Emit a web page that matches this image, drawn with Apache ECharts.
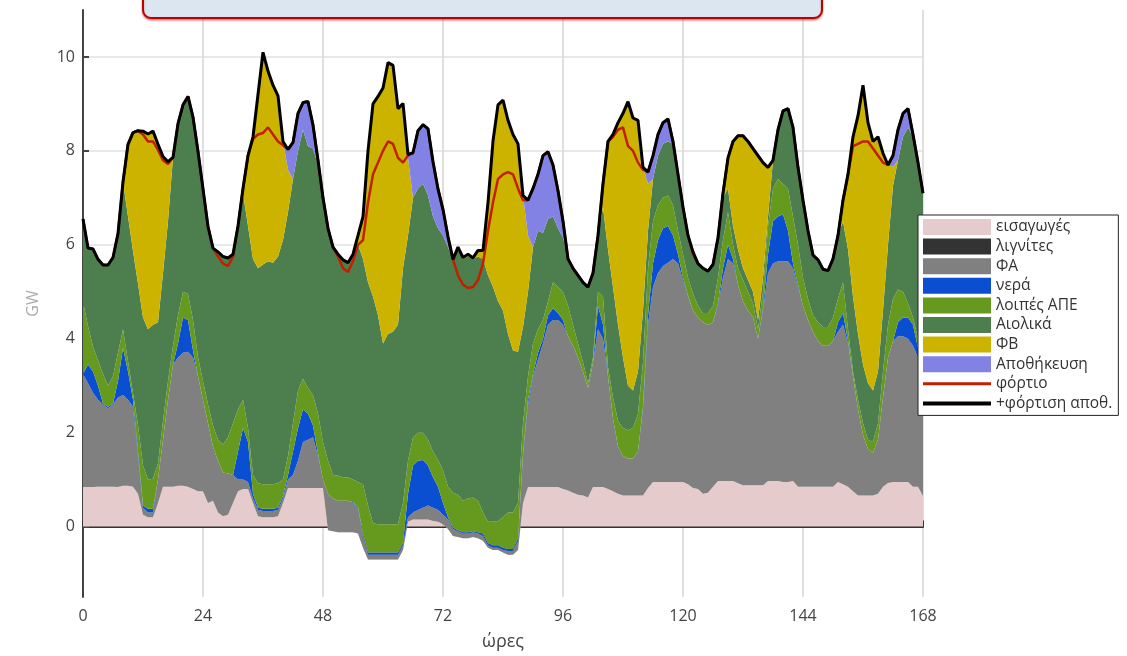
<!DOCTYPE html>
<html><head><meta charset="utf-8">
<script src="https://cdn.jsdelivr.net/npm/echarts@6/dist/echarts.min.js"></script>
<style>html,body{margin:0;padding:0;background:#fff}#c{width:1127px;height:656px}</style>
</head><body><div id="c"></div>
<script>
// hour categories 0..168
const hours = Array.from({length: 169}, (_, i) => String(i));
const xTickLabels = ['0','24','48','72','96','120','144','168'];
const yTickValues = [0, 2, 4, 6, 8, 10];

// stacked generation, GW
const imports = [
 .84,.84,.84,.85,.85,.85,.85,.84,.87,.87,
 .85,.70,.25,.20,.20,.50,.85,.85,.85,.87,
 .87,.85,.80,.75,.75,.50,.55,.30,.22,.25,
 .50,.75,.80,.80,.50,.22,.20,.20,.20,.22,
 .50,.82,.82,.82,.82,.82,.82,.82,.82,-.08,
 -.10,-.12,-.12,-.12,-.12,-.15,-.45,-.70,-.70,-.70,
 -.70,-.70,-.70,-.70,-.50,.10,.15,.15,.15,.15,
 .12,.10,.05,-.05,-.20,-.22,-.25,-.25,-.22,-.25,
 -.30,-.45,-.50,-.50,-.55,-.60,-.60,-.50,.50,.84,
 .84,.84,.84,.84,.84,.84,.80,.77,.72,.68,
 .66,.62,.84,.84,.84,.80,.75,.70,.66,.66,
 .66,.66,.66,.82,.95,.95,.95,.95,.95,.95,
 .95,.90,.82,.80,.70,.72,.85,.97,.97,.97,
 .97,.92,.88,.88,.88,.88,.88,.97,.97,.97,
 .95,.95,.97,.85,.85,.85,.85,.85,.85,.85,
 .85,.95,.90,.85,.75,.66,.66,.66,.66,.70,
 .85,.93,.95,.95,.95,.95,.85,.85,.65];
const lignite = [
 0,0,0,0,0,0,0,0,0,0, 0,0,0,0,0,0,0,0,0,0, 0,0,0,0,0,0,0,0,0,0,
 0,0,0,0,0,0,0,0,0,0, 0,0,0,0,0,0,0,0,0,0, 0,0,0,0,0,0,0,0,0,0,
 0,0,0,0,0,0,0,0,0,0, 0,0,0,0,0,0,0,0,0,0, 0,0,0,0,0,0,0,0,0,0,
 0,0,0,0,0,0,0,0,0,0, 0,0,0,0,0,0,0,0,0,0, 0,0,0,0,0,0,0,0,0,0,
 0,0,0,0,0,0,0,0,0,0, 0,0,0,0,0,0,0,0,0,0, 0,0,0,0,0,0,0,0,0];
const gas = [
 2.41,2.21,2.01,1.85,1.75,1.67,1.75,1.91,1.93,1.83,
 1.70,.80,.15,.10,.10,.50,1.00,1.85,2.60,2.73,
 2.83,2.87,2.80,2.45,1.95,1.70,1.15,1.10,.93,.88,
 .60,.25,.20,.15,.10,.13,.13,.13,.13,.13,
 .10,.18,.28,.58,.98,1.03,1.08,.68,.18,.78,
 .70,.67,.67,.67,.62,.55,.25,.10,.10,.10,
 .10,.10,.10,.10,.10,.10,.15,.20,.25,.30,
 .28,.25,.20,.20,.15,.12,.10,.10,.10,.10,
 .10,.05,.05,.05,.05,.08,.08,.20,1.00,1.76,
 2.36,2.71,3.06,3.46,3.56,3.56,3.50,3.28,3.13,2.92,
 2.64,2.33,2.66,3.36,3.16,2.40,1.55,1.00,.84,.79,
 .79,.94,1.84,3.48,4.15,4.45,4.60,4.67,4.75,4.65,
 4.30,4.00,3.78,3.65,3.65,3.58,3.50,3.73,4.33,4.73,
 4.63,4.23,3.92,3.72,3.57,3.12,3.72,4.43,4.63,4.68,
 4.70,4.70,4.53,4.25,3.85,3.55,3.30,3.10,3.00,3.00,
 3.10,3.20,3.40,3.05,2.45,1.84,1.29,.99,.91,1.15,
 1.90,2.67,3.00,3.10,3.10,3.05,3.00,2.75,2.75];
const hydro = [
 0,.40,.45,.30,.02,.03,.02,.35,1.00,.60,
 .15,.10,.05,.08,.08,0,0,0,0,.30,
 .75,.68,.15,0,0,0,0,0,0,0,
 0,.60,1.10,.85,.10,.05,.05,.05,.05,.05,
 .05,.10,.50,.70,.70,.55,.25,.05,0,0,
 0,0,0,0,.02,.02,.05,.05,.05,.05,
 .05,.05,.05,.05,.05,.50,1.00,1.05,1.02,.85,
 .65,.50,.25,.05,.03,.02,.03,.03,.02,.03,
 .05,.05,.05,.05,.05,.04,.04,.05,.05,.10,
 .05,.15,.10,.20,.25,.15,.10,0,0,0,
 0,0,0,.50,.30,0,0,0,0,0,
 0,0,.05,.20,.50,.70,.80,.78,.50,.20,
 .05,.02,0,0,0,0,0,.05,.20,.30,
 .10,0,0,0,0,0,.05,.40,.90,.95,
 1.00,.65,.10,.05,0,0,0,0,0,0,
 0,.20,.25,.05,0,0,0,0,0,0,
 0,0,0,.30,.40,.45,.45,.20,.10];
const otherRes = [
 1.53,.82,.53,.54,.63,.45,.58,.60,.40,.22,
 .14,.56,.85,.62,.64,.35,.40,.40,.40,.60,
 .55,.55,.65,.41,.40,.40,.45,.45,.60,.77,
 1.10,.90,.60,.30,.40,.52,.52,.52,.52,.52,
 .35,.40,.60,.80,.65,.55,.65,.85,.80,.70,
 .50,.53,.50,.50,.48,.53,1.05,1.00,.62,.60,
 .60,.60,.60,.60,.85,.70,.60,.60,.58,.55,
 .55,.57,.70,.65,.74,.76,.67,.72,.72,.67,
 .45,.45,.50,.52,.65,.78,.78,.75,.65,.50,
 .65,.50,.40,.30,.55,.55,.60,.65,.45,.30,
 .20,.10,.10,.30,.60,.20,.45,.55,.60,.60,
 .65,.80,.95,1.00,.90,.75,.65,.65,.65,.50,
 .50,.38,.35,.25,.20,.25,.35,.55,.60,.70,
 .30,.35,.45,.40,.30,.20,.35,.60,.70,.80,
 .65,.90,1.00,.85,.60,.45,.35,.40,.40,.40,
 .50,.50,.65,.25,.10,.20,.25,.20,.23,.35,
 .55,.70,.90,.70,.55,.30,.15,.20,.30];
const wind = [
 1.77,1.66,2.08,2.15,2.32,2.57,2.53,2.54,3.14,3.08,
 3.03,3.01,3.15,3.20,3.28,3.00,3.15,3.40,4.01,4.08,
 3.98,4.21,4.32,4.38,4.09,3.79,3.78,4.00,4.00,3.82,
 3.60,3.90,4.40,4.30,4.60,4.58,4.68,4.75,4.72,4.83,
 5.10,5.20,5.20,5.10,5.30,5.15,5.25,5.30,5.15,4.95,
 4.85,4.72,4.63,4.57,4.80,5.05,4.80,4.75,4.83,4.45,
 3.85,4.05,4.10,4.25,5.00,4.80,5.10,5.20,5.30,5.20,
 5.00,4.93,5.00,5.10,4.97,5.22,5.15,5.15,5.08,5.20,
 5.40,5.25,5.00,4.68,4.40,3.80,3.45,3.22,2.05,1.80,
 2.05,2.10,1.85,1.75,1.40,1.25,1.15,1.00,1.20,1.45,
 1.70,2.05,1.80,1.20,1.90,2.50,2.35,2.05,1.50,.95,
 .80,.90,1.10,.80,.90,1.05,1.15,1.15,1.30,1.20,
 1.00,.90,.90,.90,.95,.89,.88,.85,.90,.50,
 .40,.40,.25,.25,.25,.20,.30,.20,.60,1.05,
 1.55,1.70,1.90,1.65,1.65,1.45,1.28,1.33,1.23,1.20,
 1.25,1.35,1.30,1.70,1.60,1.40,1.25,1.20,1.10,1.10,
 1.30,1.70,2.41,2.75,3.30,3.75,3.85,3.75,3.30];
const pv = [
 0,0,0,0,0,0,0,0,0,1.54,
 2.52,3.26,3.97,4.16,4.12,3.79,2.48,1.27,0,0,
 0,0,0,0,0,0,0,0,0,0,
 0,0,.10,1.50,2.60,3.70,4.52,4.05,3.78,3.42,
 2.10,.90,0,0,0,0,0,0,0,0,
 0,0,0,0,0,.20,.90,2.80,4.10,4.66,
 5.44,5.78,5.67,4.60,3.51,1.65,0,0,0,0,
 0,0,0,0,0,.05,.03,.05,.02,.13,
 .18,1.55,3.11,4.18,4.48,4.55,4.60,4.43,2.80,1.20,
 0,0,0,0,0,0,0,0,0,0,
 0,0,0,0,.50,2.30,3.25,4.30,5.20,6.05,
 5.80,5.35,3.05,1.00,0,0,0,0,0,0,
 0,0,0,0,0,0,0,0,.10,.65,
 1.80,2.42,2.82,2.95,3.05,3.50,2.45,1.05,0,0,
 0,0,0,0,0,0,0,0,0,0,
 0,0,.45,1.60,3.40,4.65,5.95,5.55,5.30,5.00,
 3.35,1.70,.40,0,0,0,0,0,0];
const storage = [
 0,0,0,0,0,0,0,0,0,0, 0,0,0,0,0,0,0,0,0,0,
 0,0,0,0,0,0,0,0,0,0, 0,0,0,0,0,0,0,0,0,0,
 0,.43,.78,.80,.58,.95,.50,.10,.05,0,
 0,0,0,0,0,0,0,0,0,0,
 0,0,0,0,0,.07,.96,1.23,1.26,1.42,
 1.17,.84,.55,.22,0,0,0,0,0,0,
 0,0,0,0,0,0,0,0,0,.75,
 1.25,1.20,1.65,1.43,1.10,.80,.35,0,0,0,
 0,0,0,0,0,0,0,0,0,0,
 0,0,0,.25,.50,.45,.45,.48,.05,0,
 0,0,0,0,0,0,0,0,0,0, 0,0,0,0,0,0,0,0,0,0,
 0,0,0,0,0,0,0,0,0,0, 0,0,0,0,0,0,0,0,0,0,
 0,0,.24,.65,.50,.40,.05,0,0];
// lines
const load = [
 6.55,5.93,5.91,5.69,5.57,5.57,5.73,6.24,7.34,8.14,
 8.39,8.43,8.35,8.20,8.20,8.02,7.80,7.72,7.86,8.58,
 8.98,9.16,8.72,7.99,7.19,6.39,5.93,5.75,5.60,5.55,
 5.75,6.40,7.20,7.90,8.25,8.35,8.38,8.50,8.35,8.20,
 8.12,8.03,8.18,8.80,9.03,9.05,8.55,7.80,7.00,6.35,
 5.95,5.75,5.50,5.42,5.65,6.00,6.10,6.90,7.50,7.75,
 8.00,8.20,8.15,7.85,7.75,7.90,7.96,8.43,8.56,8.47,
 7.77,7.19,6.75,6.17,5.69,5.35,5.15,5.08,5.10,5.25,
 5.60,6.30,6.90,7.40,7.50,7.55,7.50,7.20,6.95,6.95,
 7.20,7.50,7.90,7.98,7.70,7.15,6.50,5.70,5.50,5.35,
 5.20,5.10,5.40,6.20,7.30,8.20,8.30,8.45,8.50,8.10,
 8.00,7.75,7.60,7.55,7.90,8.35,8.60,8.68,8.20,7.50,
 6.80,6.20,5.80,5.60,5.50,5.44,5.58,6.15,7.10,7.85,
 8.20,8.32,8.32,8.20,8.05,7.90,7.75,7.65,7.80,8.45,
 8.85,8.90,8.50,7.65,6.95,6.30,5.78,5.68,5.48,5.45,
 5.70,6.20,6.95,7.50,8.10,8.15,8.20,8.20,8.05,7.90,
 7.75,7.70,7.90,8.45,8.80,8.90,8.35,7.75,7.10];
const loadPlusCharge = [
 6.55,5.93,5.91,5.69,5.57,5.57,5.73,6.24,7.34,8.14,
 8.39,8.43,8.42,8.36,8.42,8.14,7.88,7.77,7.86,8.58,
 8.98,9.16,8.72,7.99,7.19,6.39,5.93,5.85,5.75,5.72,
 5.80,6.40,7.20,7.90,8.30,9.20,10.10,9.70,9.40,9.17,
 8.20,8.03,8.18,8.80,9.03,9.05,8.55,7.80,7.00,6.35,
 5.95,5.80,5.68,5.62,5.80,6.20,6.60,8.00,9.00,9.16,
 9.34,9.88,9.82,8.90,9.01,7.92,7.96,8.43,8.56,8.47,
 7.77,7.19,6.75,6.17,5.69,5.95,5.73,5.80,5.72,5.88,
 5.88,6.90,8.21,8.98,9.08,8.65,8.35,8.15,7.05,6.95,
 7.20,7.50,7.90,7.98,7.70,7.15,6.50,5.70,5.50,5.35,
 5.20,5.10,5.40,6.20,7.30,8.20,8.35,8.60,8.80,9.05,
 8.70,8.65,7.65,7.55,7.90,8.35,8.60,8.68,8.20,7.50,
 6.80,6.20,5.85,5.60,5.50,5.44,5.58,6.15,7.10,7.85,
 8.20,8.32,8.32,8.20,8.05,7.90,7.75,7.65,7.80,8.45,
 8.85,8.90,8.50,7.65,6.95,6.30,5.78,5.68,5.48,5.45,
 5.70,6.20,6.95,7.50,8.30,8.75,9.40,8.60,8.20,8.30,
 7.95,7.70,7.90,8.45,8.80,8.90,8.35,7.75,7.10];

const names = ['εισαγωγές','λιγνίτες','ΦΑ','νερά','λοιπές ΑΠΕ','Αιολικά','ΦΒ','Αποθήκευση','φόρτιο','+φόρτιση αποθ.'];
const colors = ['#e6cbcc','#333333','#808080','#0a4fd2','#669a1e','#4d7f4e','#ccb300','#8282e4','#c02000','#000000'];
const stackData = [imports, lignite, gas, hydro, otherRes, wind, pv, storage];

const FONT = 'Open Sans';
const series = stackData.map((d, i) => ({
  name: names[i], type: 'line', stack: 'gen', stackStrategy: 'all', data: d,
  symbol: 'none', showSymbol: false,
  lineStyle: {width: 0}, itemStyle: {color: colors[i]},
  areaStyle: {color: colors[i], opacity: 1},
  emphasis: {disabled: true}, z: 2
}));
series.push({name: names[8], type: 'line', data: load, symbol: 'none', showSymbol: false,
  lineStyle: {color: colors[8], width: 2.5}, itemStyle: {color: colors[8]}, emphasis: {disabled: true}, z: 3});
series.push({name: names[9], type: 'line', data: loadPlusCharge, symbol: 'none', showSymbol: false,
  lineStyle: {color: colors[9], width: 3}, itemStyle: {color: colors[9]}, emphasis: {disabled: true}, z: 4});

const lineIconThin = 'path://M0,0L0.01,0M0,6.5L68,6.5L68,9.5L0,9.5ZM0,16L0.01,16';
const lineIconThick = 'path://M0,0L0.01,0M0,6L68,6L68,10L0,10ZM0,16L0.01,16';
const legendData = names.map((n, i) => ({
  name: n,
  icon: i < 8 ? 'rect' : (i === 8 ? lineIconThin : lineIconThick),
  itemStyle: {color: colors[i], borderWidth: 0}
}));

const chart = echarts.init(document.getElementById('c'), null, {renderer: 'canvas'});
chart.setOption({
  animation: false,
  backgroundColor: '#fff',
  textStyle: {fontFamily: FONT},
  grid: {left: 83, right: 204, top: 10, bottom: 58},
  graphic: [{
    type: 'rect', z: 100,
    shape: {x: 143, y: -24, width: 679, height: 42, r: 8},
    style: {fill: '#dce6f1', stroke: '#c00000', lineWidth: 2,
      shadowBlur: 2, shadowOffsetY: 1.5, shadowColor: 'rgba(170,0,0,0.45)'}
  }],
  legend: {
    orient: 'vertical', left: 918, top: 215, z: 20,
    itemWidth: 68, itemHeight: 16, itemGap: 3.6,
    padding: [4, 6, 4, 5],
    borderColor: '#222', borderWidth: 1, backgroundColor: '#fff',
    selectedMode: false,
    textStyle: {fontSize: 15.5, color: '#333', fontFamily: FONT},
    data: legendData
  },
  xAxis: {
    type: 'category', data: hours, boundaryGap: false,
    axisLine: {lineStyle: {color: '#333', width: 2}},
    axisTick: {inside: true, length: 6, interval: 23, lineStyle: {color: '#333', width: 2}},
    axisLabel: {interval: 23, margin: 11, fontSize: 16, color: '#444', fontFamily: FONT,
      formatter: v => xTickLabels.includes(v) ? v : ''},
    splitLine: {show: true, interval: 23, lineStyle: {color: '#e0e0e0', width: 2}},
    name: 'ώρες', nameLocation: 'middle', nameGap: 36,
    nameTextStyle: {fontSize: 18, color: '#444', fontFamily: FONT}
  },
  yAxis: {
    type: 'value', min: -1.5, max: 11, splitNumber: 6,
    axisLine: {show: true, lineStyle: {color: '#444', width: 2}},
    axisTick: {show: true, inside: true, length: 6, customValues: yTickValues, lineStyle: {color: '#444', width: 2}},
    axisLabel: {customValues: yTickValues, fontSize: 16, margin: 8, color: '#444', fontFamily: FONT},
    splitLine: {show: true, lineStyle: {color: '#e0e0e0', width: 1.5}},
    name: 'GW', nameLocation: 'middle', nameGap: 42, nameRotate: 90,
    nameTextStyle: {fontSize: 16, color: '#aaa', fontFamily: FONT}
  },
  series: series
});
</script>
</body></html>
